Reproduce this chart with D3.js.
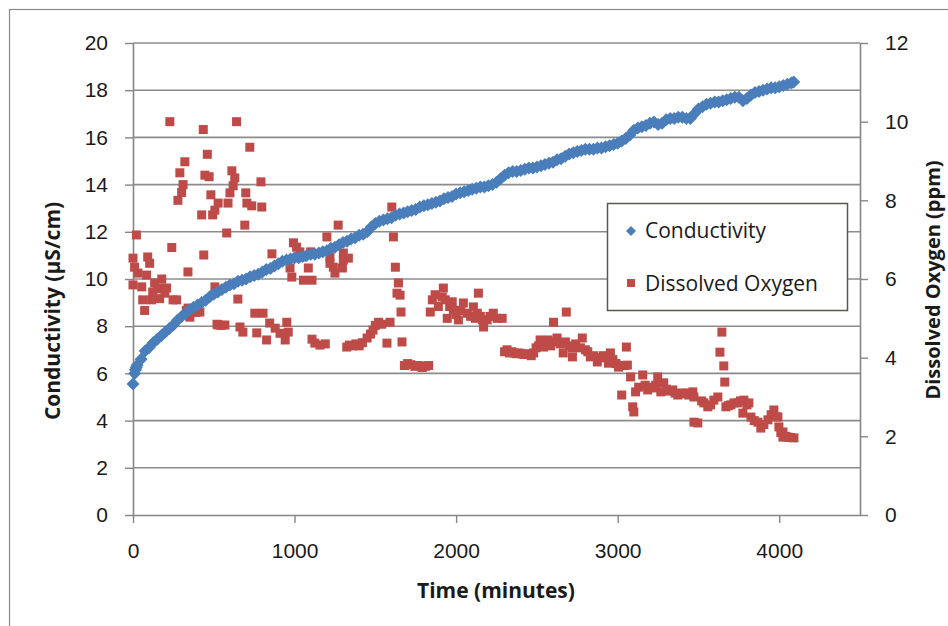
<!DOCTYPE html>
<html>
<head>
<meta charset="utf-8">
<script src="https://cdn.jsdelivr.net/npm/d3@7"></script>
<style>
  html, body { margin: 0; padding: 0; background: #fff; }
  svg { display: block; font-family: "Open Sans", sans-serif; }
</style>
</head>
<body>
<svg id="chart" width="948" height="626"></svg>
<script>
// Conductivity readings [time (min), µS/cm]
const conductivity = [
  [0,5.55],[10,6.0],[15,6.15],[20,6.25],[25,6.35],[50,6.6],[75,6.95],[100,7.1],[125,7.3],[150,7.45],
  [175,7.6],[200,7.75],[225,7.9],[250,8.05],[275,8.25],[300,8.4],[325,8.55],[350,8.7],[375,8.8],[400,8.9],
  [425,9.0],[450,9.1],[475,9.25],[500,9.35],[525,9.45],[550,9.55],[575,9.65],[600,9.75],[625,9.8],[650,9.9],
  [675,9.95],[700,10.0],[725,10.1],[750,10.15],[775,10.2],[800,10.3],[825,10.4],[850,10.45],[875,10.55],[900,10.65],
  [925,10.75],[950,10.8],[975,10.85],[1000,10.9],[1025,10.9],[1050,10.95],[1075,11.0],[1100,11.05],[1125,11.05],[1150,11.1],
  [1175,11.15],[1200,11.2],[1225,11.3],[1250,11.35],[1275,11.45],[1300,11.55],[1325,11.6],[1350,11.7],[1375,11.75],[1400,11.85],
  [1425,11.9],[1450,12.0],[1475,12.2],[1500,12.35],[1525,12.45],[1550,12.5],[1575,12.55],[1600,12.6],[1625,12.7],[1650,12.75],
  [1675,12.8],[1700,12.85],[1725,12.9],[1750,12.95],[1775,13.05],[1800,13.1],[1825,13.15],[1850,13.2],[1875,13.25],[1900,13.3],
  [1925,13.4],[1950,13.45],[1975,13.5],[2000,13.6],[2025,13.65],[2050,13.7],[2075,13.75],[2100,13.8],[2125,13.85],[2150,13.9],
  [2175,13.9],[2200,13.95],[2225,14.0],[2250,14.1],[2275,14.25],[2300,14.4],[2325,14.5],[2350,14.55],[2375,14.55],[2400,14.6],
  [2425,14.65],[2450,14.7],[2475,14.7],[2500,14.75],[2525,14.8],[2550,14.85],[2575,14.9],[2600,14.95],[2625,15.05],[2650,15.1],
  [2675,15.2],[2700,15.3],[2725,15.35],[2750,15.4],[2775,15.45],[2800,15.5],[2825,15.5],[2850,15.5],[2875,15.55],[2900,15.55],
  [2925,15.6],[2950,15.65],[2975,15.7],[3000,15.75],[3025,15.85],[3050,15.95],[3075,16.1],[3100,16.3],[3125,16.4],[3150,16.45],
  [3175,16.5],[3200,16.6],[3225,16.65],[3250,16.55],[3275,16.6],[3300,16.75],[3325,16.8],[3350,16.8],[3375,16.85],[3400,16.85],
  [3425,16.8],[3450,16.8],[3475,17.0],[3500,17.2],[3525,17.3],[3550,17.4],[3575,17.45],[3600,17.5],[3625,17.5],[3650,17.55],
  [3675,17.6],[3700,17.65],[3725,17.7],[3750,17.7],[3775,17.55],[3800,17.65],[3825,17.8],[3850,17.9],[3875,17.95],[3900,18.0],
  [3925,18.05],[3950,18.1],[3975,18.1],[4000,18.15],[4025,18.2],[4050,18.25],[4075,18.3],[4090,18.35]
];

// Dissolved oxygen readings [time (min), ppm]
const dissolvedOxygen = [
  [0,6.53],[0,5.85],[10,6.3],[21,7.12],[30,6.15],[54,5.8],[60,5.47],[72,5.2],[84,6.1],[91,6.56],
  [103,6.4],[115,5.47],[122,5.67],[134,5.9],[150,5.75],[165,5.5],[178,6.0],[178,5.77],[197,5.64],[208,5.77],
  [228,10.0],[240,6.8],[248,5.47],[270,5.47],[278,8.0],[290,8.7],[301,8.2],[310,8.4],[321,8.98],[330,5.2],
  [340,6.18],[341,5.26],[352,5.03],[372,5.2],[390,5.15],[414,5.16],[425,7.63],[435,9.8],[438,6.61],[445,8.64],
  [460,9.17],[471,8.6],[482,8.14],[493,7.63],[507,7.75],[507,5.8],[520,4.85],[527,7.93],[527,4.83],[545,4.82],
  [569,4.83],[580,7.17],[588,7.93],[600,8.19],[612,8.75],[620,8.37],[630,8.57],[641,10.0],[649,5.49],[662,4.78],
  [680,4.65],[692,7.37],[698,8.19],[705,7.93],[723,9.35],[735,7.86],[754,5.13],[766,4.63],[792,8.47],[797,7.83],
  [805,5.13],[827,4.45],[846,4.88],[860,6.64],[880,4.75],[910,4.62],[942,4.45],[952,4.9],[961,4.65],[972,6.28],
  [983,6.05],[993,6.92],[1012,6.81],[1033,6.69],[1045,6.56],[1055,5.97],[1085,6.28],[1100,6.69],[1108,5.97],[1108,4.47],
  [1126,4.37],[1157,4.32],[1190,4.35],[1200,7.07],[1219,6.56],[1219,6.4],[1240,6.3],[1250,6.15],[1270,7.37],[1296,6.28],
  [1302,6.66],[1302,6.48],[1323,4.27],[1333,6.53],[1340,4.32],[1360,4.3],[1380,4.35],[1400,4.3],[1420,4.38],[1449,4.5],
  [1470,4.6],[1486,4.7],[1500,4.82],[1520,4.9],[1540,4.85],[1572,4.37],[1591,4.9],[1602,7.83],[1612,7.07],[1624,6.3],
  [1634,5.64],[1643,5.9],[1653,5.59],[1659,5.16],[1665,4.4],[1680,3.8],[1700,3.85],[1720,3.82],[1745,3.78],[1770,3.8],
  [1790,3.75],[1810,3.78],[1830,3.8],[1840,5.16],[1853,5.47],[1870,5.6],[1890,5.3],[1914,5.54],[1921,5.77],[1933,5.47],
  [1945,5.0],[1960,5.3],[1976,5.42],[1983,5.21],[2000,5.1],[2014,4.96],[2030,5.2],[2045,5.39],[2069,5.13],[2090,5.05],
  [2107,5.29],[2120,5.0],[2131,5.13],[2138,5.64],[2150,5.05],[2163,4.96],[2170,4.78],[2192,4.96],[2210,5.05],[2230,5.13],
  [2254,5.0],[2285,5.0],[2300,4.15],[2315,4.2],[2330,4.12],[2345,4.15],[2360,4.12],[2375,4.1],[2390,4.12],[2405,4.1],
  [2420,4.08],[2435,4.1],[2450,4.08],[2465,4.05],[2480,4.12],[2495,4.25],[2510,4.3],[2520,4.45],[2530,4.35],[2541,4.27],
  [2555,4.4],[2570,4.45],[2585,4.3],[2603,4.9],[2610,4.4],[2625,4.5],[2645,4.35],[2663,4.12],[2676,4.4],[2682,5.16],
  [2700,4.3],[2720,4.25],[2720,4.02],[2740,4.35],[2769,4.25],[2781,4.5],[2800,4.2],[2815,4.15],[2831,4.02],[2850,4.05],
  [2874,3.89],[2890,4.0],[2910,4.05],[2930,4.0],[2943,3.86],[2955,4.12],[2970,3.95],[2990,3.85],[3005,3.76],[3025,3.05],
  [3040,3.8],[3054,4.27],[3060,3.81],[3080,3.51],[3093,2.75],[3100,2.62],[3111,3.13],[3130,3.25],[3155,3.56],[3170,3.3],
  [3186,3.18],[3200,3.25],[3217,3.23],[3235,3.3],[3248,3.51],[3267,3.13],[3285,3.36],[3300,3.2],[3320,3.15],[3341,3.18],
  [3355,3.1],[3372,3.05],[3390,3.08],[3405,3.1],[3421,3.1],[3440,3.05],[3465,3.13],[3472,3.0],[3472,2.36],[3496,2.34],
  [3520,2.9],[3534,2.85],[3558,2.75],[3575,2.8],[3595,2.92],[3620,3.0],[3633,4.14],[3645,4.65],[3657,3.79],[3663,3.38],
  [3670,2.75],[3685,2.78],[3701,2.8],[3720,2.85],[3744,2.85],[3760,2.9],[3775,2.59],[3781,2.92],[3800,2.8],[3812,2.85],
  [3825,2.49],[3845,2.4],[3868,2.36],[3886,2.21],[3905,2.3],[3930,2.42],[3950,2.55],[3967,2.67],[3980,2.5],[3992,2.49],
  [3998,2.24],[4010,2.1],[4023,1.98],[4023,2.11],[4040,2.0],[4054,1.98],[4070,1.97],[4091,1.96]
];

const timeTicks = [0, 1000, 2000, 3000, 4000];
const conductivityTicks = [0, 2, 4, 6, 8, 10, 12, 14, 16, 18, 20];
const oxygenTicks = [0, 2, 4, 6, 8, 10, 12];
const seriesNames = ["Conductivity", "Dissolved Oxygen"];
const seriesColors = ["#4a7ebb", "#be4b48"];

const svg = d3.select("#chart");
const axisColor = "#868686";

const x = d3.scaleLinear().domain([0, 4500]).range([133, 860]);
const yL = d3.scaleLinear().domain([0, 20]).range([515, 43]);
const yR = d3.scaleLinear().domain([0, 12]).range([515, 43]);

// outer chart frame
svg.append("rect")
  .attr("x", 9.5).attr("y", 9.5).attr("width", 980).attr("height", 660)
  .attr("fill", "#fff").attr("stroke", "#8a8a8a").attr("stroke-width", 1.2);

// horizontal gridlines
svg.append("g").selectAll("line")
  .data(conductivityTicks.filter(d => d > 0))
  .join("line")
  .attr("x1", x(0)).attr("x2", x(4500))
  .attr("y1", d => yL(d)).attr("y2", d => yL(d))
  .attr("stroke", "#8c8c8c").attr("stroke-width", 1.6);

function styleAxis(g) {
  g.select(".domain").attr("stroke", axisColor).attr("stroke-width", 1.6);
  g.selectAll(".tick line").attr("stroke", axisColor).attr("stroke-width", 1.4);
  g.selectAll(".tick text").attr("fill", "#1a1a1a").style("font-size", "21px");
}

svg.append("g")
  .attr("transform", `translate(${x(0)},0)`)
  .call(d3.axisLeft(yL).tickValues(conductivityTicks).tickSize(8).tickPadding(17).tickSizeOuter(0))
  .call(styleAxis);

svg.append("g")
  .attr("transform", `translate(${x(4500)},0)`)
  .call(d3.axisRight(yR).tickValues(oxygenTicks).tickSize(8).tickPadding(17).tickSizeOuter(0))
  .call(styleAxis);

svg.append("g")
  .attr("transform", `translate(0,${yL(0)})`)
  .call(d3.axisBottom(x).tickValues(timeTicks).tickSize(8).tickPadding(20).tickSizeOuter(0).tickFormat(d3.format("d")))
  .call(styleAxis);

// markers
const diamond = s => `M0,${-s}L${s},0L0,${s}L${-s},0Z`;

svg.append("g").selectAll("rect")
  .data(dissolvedOxygen)
  .join("rect")
  .attr("x", d => x(d[0]) - 4.5).attr("y", d => yR(d[1]) - 4.5)
  .attr("width", 9).attr("height", 9)
  .attr("fill", seriesColors[1]);

svg.append("g").selectAll("path")
  .data(conductivity)
  .join("path")
  .attr("transform", d => `translate(${x(d[0])},${yL(d[1])})`)
  .attr("d", diamond(6.5))
  .attr("fill", seriesColors[0]);

// axis titles
svg.append("text")
  .attr("x", 496).attr("y", 598).attr("text-anchor", "middle")
  .style("font-size", "21px").style("font-weight", "bold").attr("fill", "#1a1a1a")
  .text("Time (minutes)");

svg.append("text")
  .attr("transform", "translate(60,311) rotate(-90)").attr("text-anchor", "middle")
  .style("font-size", "21px").style("font-weight", "bold").attr("fill", "#1a1a1a")
  .text("Conductivity (µS/cm)");

svg.append("text")
  .attr("transform", "translate(940,280) rotate(-90)").attr("text-anchor", "middle")
  .style("font-size", "20px").style("font-weight", "bold").attr("fill", "#1a1a1a")
  .text("Dissolved Oxygen (ppm)");

// legend
const legend = svg.append("g");
legend.append("rect")
  .attr("x", 607.5).attr("y", 203.5).attr("width", 240).attr("height", 107)
  .attr("fill", "#fff").attr("stroke", "#59594a").attr("stroke-width", 1.5);
legend.append("path")
  .attr("transform", "translate(631,231)").attr("d", diamond(5)).attr("fill", seriesColors[0]);
legend.append("rect")
  .attr("x", 627).attr("y", 279).attr("width", 8).attr("height", 8).attr("fill", seriesColors[1]);
legend.selectAll("text.lbl")
  .data(seriesNames)
  .join("text")
  .attr("class", "lbl")
  .attr("x", 645).attr("y", (d, i) => i === 0 ? 238 : 291)
  .style("font-size", "21px").attr("fill", "#1a1a1a")
  .text(d => d);
</script>
</body>
</html>
